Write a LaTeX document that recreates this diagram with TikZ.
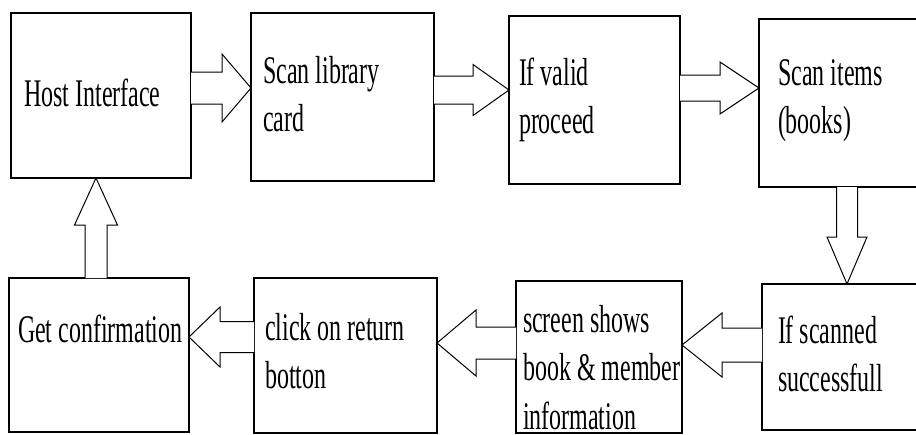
\documentclass[tikz,border=0pt]{standalone}
\usepackage{fontspec}
\setmainfont{Liberation Serif}
\usetikzlibrary{calc}
\newcommand\barrow[5]{%
  \coordinate (hb) at ($(#2)!#5pt!(#1)$);
  \draw[blk] ($(#1)!#3pt!90:(#2)$) -- ($(hb)!#3pt!90:(#2)$) -- ($(hb)!#4pt!90:(#2)$) -- (#2)
    -- ($(hb)!#4pt!-90:(#2)$) -- ($(hb)!#3pt!-90:(#2)$) -- ($(#1)!#3pt!-90:(#2)$);}
\newcommand\boxtext[1]{\scalebox{1}[1.63]{\fontsize{24}{30}\selectfont\begin{tabular}[t]{@{}l@{}}#1\end{tabular}}}
\begin{document}
\begin{tikzpicture}[x=1pt,y=-1pt,
  stepbox/.style={draw=black,line width=1.5pt,rectangle,anchor=north west,inner sep=0pt,outer sep=0pt,fill=white},
  lbl/.style={anchor=base west,inner sep=0pt,outer sep=0pt,text=black},
  blk/.style={draw=black,line width=1pt,fill=white,line join=miter}]
\useasboundingbox (0,0) rectangle (916,434);
\fill[white] (0,0) rectangle (916,434);
% boxes
\node[stepbox,minimum width=180pt,minimum height=165pt] (b1) at (11,13) {};
\node[stepbox,minimum width=183pt,minimum height=168pt] (b2) at (251,13) {};
\node[stepbox,minimum width=171pt,minimum height=168pt] (b3) at (509,16) {};
\node[stepbox,minimum width=200pt,minimum height=168pt] (b4) at (759,19) {};
\node[stepbox,minimum width=200pt,minimum height=146pt] (b5) at (762,284) {};
\node[stepbox,minimum width=166pt,minimum height=152pt] (b6) at (516,281) {};
\node[stepbox,minimum width=183pt,minimum height=155pt] (b7) at (254,278) {};
\node[stepbox,minimum width=180pt,minimum height=154pt] (b8) at (9,278) {};
% arrow end points
\coordinate (a1s) at (b1.east |- 0,88);  \coordinate (a1e) at (b2.west |- 0,88);
\coordinate (a2s) at (b2.east |- 0,90);  \coordinate (a2e) at (b3.west |- 0,90);
\coordinate (a3s) at (b3.east |- 0,88);  \coordinate (a3e) at (b4.west |- 0,88);
\coordinate (a4s) at (847,0 |- b4.south); \coordinate (a4e) at (847,0 |- b5.north);
\coordinate (a5s) at (b5.west |- 0,345); \coordinate (a5e) at (b6.east |- 0,345);
\coordinate (a6s) at (b6.west |- 0,343); \coordinate (a6e) at (b7.east |- 0,343);
\coordinate (a7s) at (b7.west |- 0,337); \coordinate (a7e) at (b8.east |- 0,337);
\coordinate (a8s) at (96,0 |- b8.north); \coordinate (a8e) at (96,0 |- b1.south);
% block arrows
\barrow{a1s}{a1e}{16}{34}{29}
\barrow{a2s}{a2e}{14}{25.5}{36}
\barrow{a3s}{a3e}{13}{26}{39}
\barrow{a4s}{a4e}{10.5}{20}{47}
\barrow{a5s}{a5e}{17}{32}{40}
\barrow{a6s}{a6e}{16}{33}{39}
\barrow{a7s}{a7e}{15.5}{30}{31}
\barrow{a8s}{a8e}{11}{21.5}{47}
% texts
\node[lbl] (t1) at (24,106) {\boxtext{Host Interface}};
\node[lbl] (t2) at (263,83) {\boxtext{Scan library\\card}};
\node[lbl] (t3) at (519,85) {\boxtext{If valid\\proceed}};
\node[lbl] (t4) at (778,85) {\boxtext{Scan items\\(books)}};
\node[lbl] (t5) at (778,343) {\boxtext{If scanned\\successfull}};
\node[lbl] (t6) at (523,332) {\boxtext{screen shows\\book \& member\\information}};
\node[lbl] (t7) at (265,340) {\boxtext{click on return\\botton}};
\node[lbl] (t8) at (18,342) {\boxtext{Get confirmation}};
\end{tikzpicture}
\end{document}
